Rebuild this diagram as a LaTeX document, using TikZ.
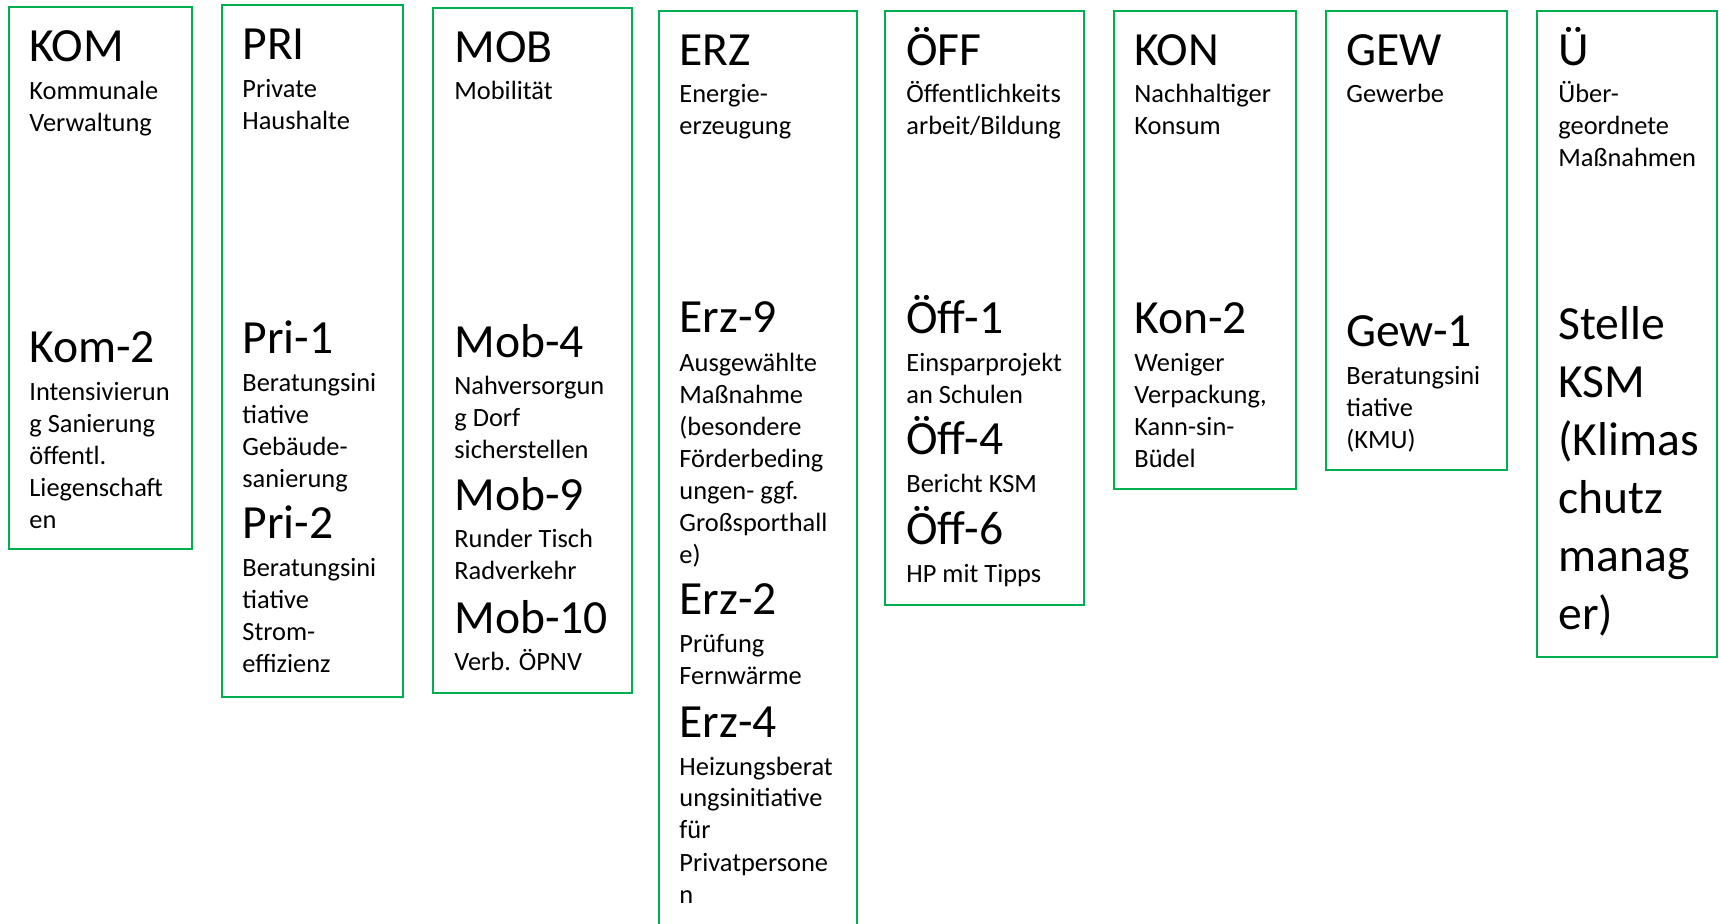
\documentclass[tikz,border=0pt]{standalone}
\usepackage{fontspec}
\setmainfont{Carlito}
\definecolor{gruen}{HTML}{00B050}
% mehrzeiliger Text, Grundlinie an der ersten Zeile
\newcommand{\zeilen}[1]{\begin{tabular}[t]{@{}l@{}}#1\end{tabular}}

\begin{document}
\begin{tikzpicture}[x=0.5pt,y=-0.5pt]
      \useasboundingbox (0,0) rectangle (1719,924);
      % Felder
      \begin{scope}[every path/.style={draw=gruen,line width=1pt}]
        \path (9,7) rectangle (192,549);
        \path (222,5) rectangle (403,697);
        \path (433,8) rectangle (632,693);
        \path (659,924) |- (857,11) -- (857,924);
        \path (885,11) rectangle (1084,605);
        \path (1114,11) rectangle (1296,489);
        \path (1326,11) rectangle (1507,470);
        \path (1537,11) rectangle (1717,657);
      \end{scope}
      % Titel und Kennungen
      \begin{scope}[every node/.style={anchor=base west,inner sep=0pt,font=\fontsize{23.8}{29}\selectfont}]
        \node (kom) at (29,62) {KOM};
        \node (kom2) at (29,363) {Kom-2};
        \node (pri) at (242,60) {PRI};
        \node (pri1) at (242,354) {Pri-1};
        \node (pri2) at (242,539) {Pri-2};
        \node (mob) at (454,63) {MOB};
        \node (mob4) at (454,358) {Mob-4};
        \node (mob9) at (454,511) {Mob-9};
        \node (mob10) at (454,633) {Mob-10};
        \node (erz) at (679,66) {ERZ};
        \node (erz9) at (679,333) {Erz-9};
        \node (erz2) at (679,615) {Erz-2};
        \node (erz4) at (679,737) {Erz-4};
        \node (oeff) at (906,66) {ÖFF};
        \node (oeff1) at (906,334) {Öff-1};
        \node (oeff4) at (906,455) {Öff-4};
        \node (oeff6) at (906,545) {Öff-6};
        \node (kon) at (1134,66) {KON};
        \node (kon2) at (1134,334) {Kon-2};
        \node (gew) at (1346,66) {GEW};
        \node (gew1) at (1346,347) {Gew-1};
        \node (ue) at (1558,66) {Ü};
        \node (ksm) at (1558,340) {\zeilen{Stelle\\KSM\\(Klimas\\chutz\\manag\\er)}};
      \end{scope}
      % Beschreibungen
      \begin{scope}[every node/.style={anchor=base west,inner sep=0pt,font=\fontsize{13.2}{16}\selectfont}]
        \node (kom-b) at (29,100) {\zeilen{Kommunale\\Verwaltung}};
        \node (kom2-b) at (29,401) {\zeilen{Intensivierun\\g Sanierung\\öffentl.\\Liegenschaft\\en}};
        \node (pri-b) at (242,98) {\zeilen{Private\\Haushalte}};
        \node (pri1-b) at (242,392) {\zeilen{Beratungsini\\tiative\\Gebäude-\\sanierung}};
        \node (pri2-b) at (242,577) {\zeilen{Beratungsini\\tiative\\Strom-\\effizienz}};
        \node (mob-b) at (454,100) {Mobilität};
        \node (mob4-b) at (454,395) {\zeilen{Nahversorgun\\g Dorf\\sicherstellen}};
        \node (mob9-b) at (454,548) {\zeilen{Runder Tisch\\Radverkehr}};
        \node (mob10-b) at (454,670) {Verb. ÖPNV};
        \node (erz-b) at (679,103) {\zeilen{Energie-\\erzeugung}};
        \node (erz9-b) at (679,372) {\zeilen{Ausgewählte\\Maßnahme\\(besondere\\Förderbeding\\ungen- ggf.\\Großsporthall\\e)}};
        \node (erz2-b) at (679,653) {\zeilen{Prüfung\\Fernwärme}};
        \node (erz4-b) at (679,775) {\zeilen{Heizungsberat\\ungsinitiative\\für\\Privatpersone\\n}};
        \node (oeff-b) at (906,103) {\zeilen{Öffentlichkeits\\arbeit/Bildung}};
        \node (oeff1-b) at (906,372) {\zeilen{Einsparprojekt\\an Schulen}};
        \node (oeff4-b) at (906,493) {Bericht KSM};
        \node (oeff6-b) at (906,583) {HP mit Tipps};
        \node (kon-b) at (1134,103) {\zeilen{Nachhaltiger\\Konsum}};
        \node (kon2-b) at (1134,372) {\zeilen{Weniger\\Verpackung,\\Kann-sin-\\Büdel}};
        \node (gew-b) at (1346,103) {Gewerbe};
        \node (gew1-b) at (1346,385) {\zeilen{Beratungsini\\tiative\\(KMU)}};
        \node (ue-b) at (1558,103) {\zeilen{Über-\\geordnete\\Maßnahmen}};
      \end{scope}
    \end{tikzpicture}
\end{document}
